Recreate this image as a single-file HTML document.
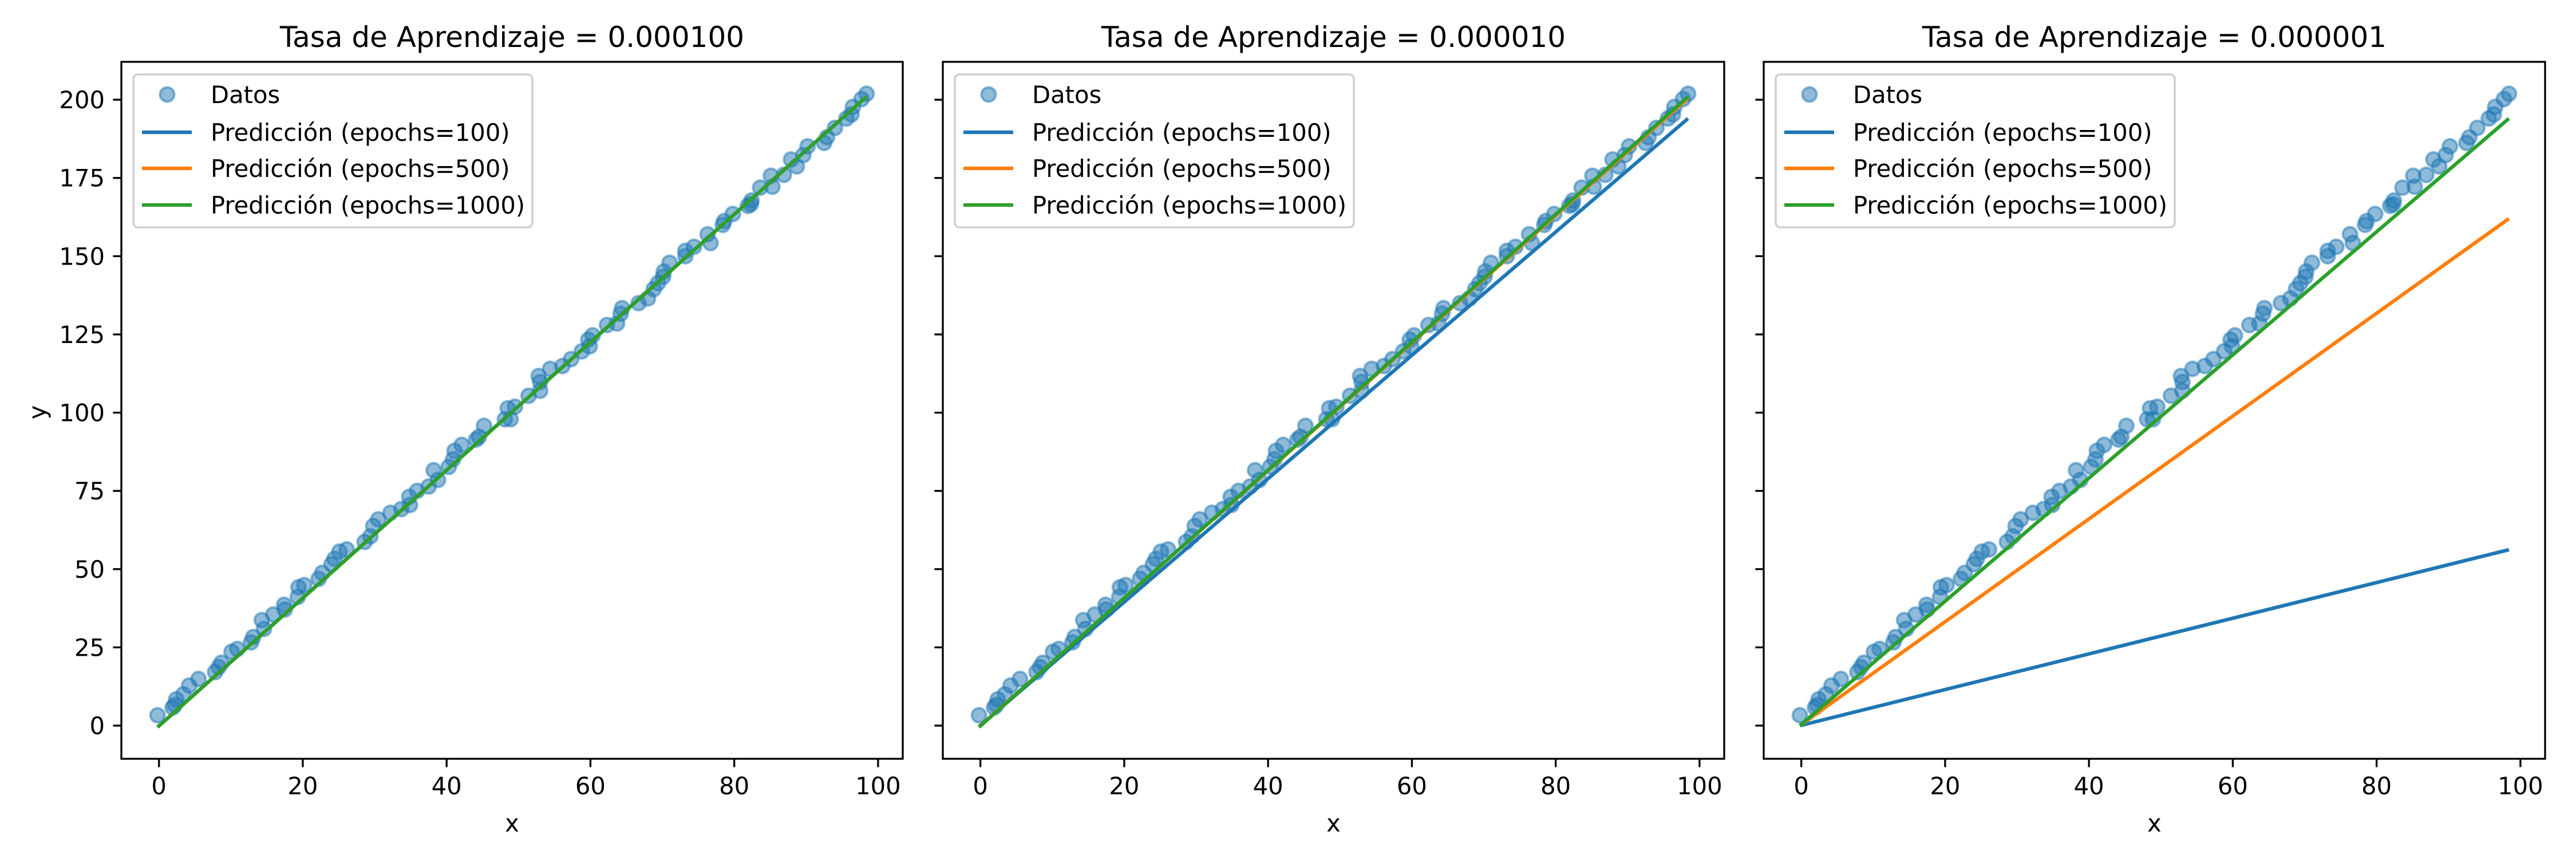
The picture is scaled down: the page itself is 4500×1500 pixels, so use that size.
<!DOCTYPE html>
<html><head><meta charset="utf-8">
<style>
html,body{margin:0;padding:0;background:#fff;}
svg{display:block;font-family:"DejaVu Sans","Liberation Sans",sans-serif;}
</style></head>
<body>
<svg id="fig" width="4500" height="1500" viewBox="0 0 4500 1500" xmlns="http://www.w3.org/2000/svg">
<rect width="4500" height="1500" fill="#fff"/>
</svg>
<script>
const dataX = [-0.2,1.9,2.2,2.4,3.4,4.2,5.5,7.8,8.3,8.7,10.1,10.9,12.8,13.1,14.3,14.6,15.9,17.4,17.5,19.3,19.4,20.2,22.2,22.7,24,24.4,25.1,26.1,28.6,29.4,29.8,30.5,32.2,33.7,34.9,34.8,35.9,37.5,38.2,38.8,40.3,40.9,41.1,42.1,44.1,44.5,45.2,48.1,48.5,48.9,49.5,51.4,53,52.8,53,54.4,56.1,57.3,58.8,59.7,59.9,60.3,62.3,63.7,64.2,64.4,66.7,68,68.8,69.4,70.1,70.2,71,73.2,73.2,74.4,76.3,76.7,78.4,78.6,79.8,81.9,82.4,82.3,83.6,85.1,85.3,86.9,87.9,88.7,89.6,90.2,92.5,92.9,94,95.6,96.3,96.5,97.7,98.4];
const dataY = [3.3,5.8,6.6,8.4,10,12.8,14.9,17.1,18.7,20.1,23.6,24.5,26.6,28.3,33.7,30.9,35.5,38.6,37.1,41.1,44.2,44.9,46.9,48.8,51.6,53.3,55.6,56.3,58.7,60.5,63.8,65.9,68,69.2,70.5,73.1,75,76.4,81.6,78.5,82.7,85.1,87.8,89.7,91.4,92.3,95.8,97.9,101.4,97.9,101.9,105.4,109.8,111.7,107,114,114.9,117.1,119.6,123.3,121.2,124.7,128,128.5,131.6,133.4,135,136.5,139.5,141.4,143.4,145.1,147.9,150,151.7,153,157,154.2,160,161.2,163.5,166.1,167.8,166.6,171.9,175.7,172.2,176,180.9,178.7,182.3,185.1,186.2,188,191,194,195.3,197.7,200.2,201.9];
const learningRates = ["0.000100","0.000010","0.000001"];
const epochs = [100,500,1000];
const lineStartY = [[-0.5,-0.5,-0.5],[-0.3,-0.4,-0.5],[0.0,0.0,0.0]];
const lineEndY = [[201,201,201],[194,200.5,201],[56.2,162,194]];
const xTicks = [0,20,40,60,80,100];
const yTicks = [0,25,50,75,100,125,150,175,200];

const NS="http://www.w3.org/2000/svg";
const fig=document.getElementById('fig');
function mk(tag,attrs,parent){const e=document.createElementNS(NS,tag);for(const k in attrs)e.setAttribute(k,attrs[k]);(parent||fig).appendChild(e);return e;}
const colors=['#1f77b4','#ff7f0e','#2ca02c'];
const panelLeft=[212,1647,3081];
const W=1365, TOP=108, BOT=1325;
const xmin=-5.23, xmax=103.43, ymin=-10.6, ymax=212.1;
const MR=12.5;

for(let p=0;p<3;p++){
  const L=panelLeft[p];
  const g=mk('g',{});
  
  
  const sx=v=>L+(v-xmin)/(xmax-xmin)*W;
  const sy=v=>BOT-(v-ymin)/(ymax-ymin)*(BOT-TOP);
  for(let i=0;i<dataX.length;i++){
    const c=mk('circle',{cx:sx(dataX[i]),cy:sy(dataY[i]),r:MR,fill:'#1f77b4','fill-opacity':0.5,stroke:'#1f77b4','stroke-opacity':0.5,'stroke-width':4.2},g);
    
    
  }
  for(let k=0;k<3;k++){
    const ln=mk('line',{x1:sx(-0.2),y1:sy(lineStartY[p][k]),x2:sx(98.4),y2:sy(lineEndY[p][k]),stroke:colors[k],'stroke-width':6.25},g);
    
    
  }
  const fr=mk('rect',{x:L,y:TOP,width:W,height:BOT-TOP,fill:'none',stroke:'#000','stroke-width':3.3},g);
  
  
  for(const t of xTicks){
    const x=sx(t);
    mk('line',{x1:x,y1:BOT,x2:x,y2:BOT+14.6,stroke:'#000','stroke-width':3.3},g);
    const tx=mk('text',{x:x,y:1387,'font-size':41.7,'text-anchor':'middle'},g);
    tx.textContent=t;
    
    
  }
  for(const t of yTicks){
    const y=sy(t);
    mk('line',{x1:L,y1:y,x2:L-14.6,y2:y,stroke:'#000','stroke-width':3.3},g);
    if(p===0){
      const ty=mk('text',{x:L-29,y:y+15,'font-size':41.7,'text-anchor':'end'},g);
      ty.textContent=t;
      
      
    }
  }
  const xl=mk('text',{x:L+W/2,y:1452,'font-size':41.7,'text-anchor':'middle'},g);
  xl.textContent='x';
  
  
  if(p===0){
    const yl=mk('text',{x:0,y:0,'font-size':41.7,'text-anchor':'middle',transform:'translate(80,720) rotate(-90)'},g);
    yl.textContent='y';
    
    
  }
  const ti=mk('text',{x:L+W/2,y:82,'font-size':50,'text-anchor':'middle'},g);
  ti.textContent='Tasa de Aprendizaje = '+learningRates[p];
  
  
  const lg=mk('g',{},g);
  
  
  mk('rect',{x:L+21,y:130,width:697,height:267,rx:8,fill:'#fff','fill-opacity':0.8,stroke:'#cccccc','stroke-width':3.3},lg);
  const rows=[165,231,294,358];
  const mc=mk('circle',{cx:L+80,cy:rows[0],r:MR,fill:'#1f77b4','fill-opacity':0.5,stroke:'#1f77b4','stroke-opacity':0.5,'stroke-width':4.2},lg);
  
  
  const labels=['Datos','Predicción (epochs=100)','Predicción (epochs=500)','Predicción (epochs=1000)'];
  for(let r=0;r<4;r++){
    if(r>0){
      const ll=mk('line',{x1:L+36,y1:rows[r],x2:L+123,y2:rows[r],stroke:colors[r-1],'stroke-width':6.25},lg);
      
      
    }
    const lt=mk('text',{x:L+156,y:rows[r]+15,'font-size':41.7},lg);
    lt.textContent=labels[r];
    
    
  }
}
</script>
</body></html>
